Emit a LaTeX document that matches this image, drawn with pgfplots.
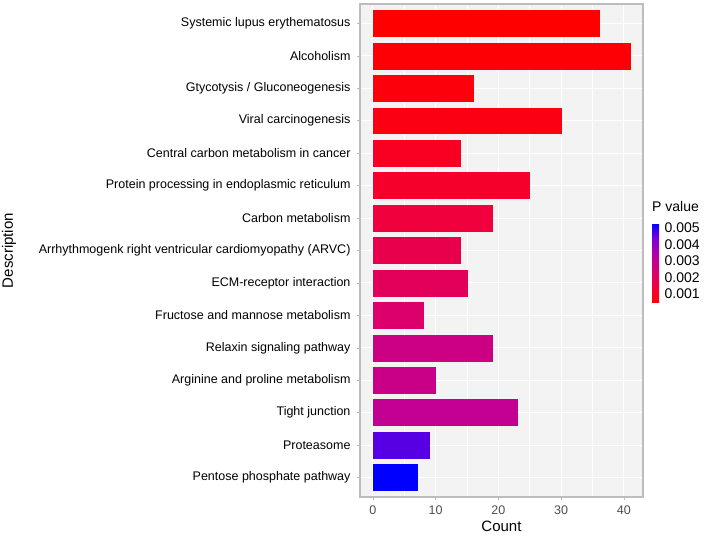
\documentclass[border=0pt]{standalone}
\usepackage{fontspec}
\setmainfont{Liberation Sans}
\usepackage{pgfplots}
\pgfplotsset{compat=1.18}

\definecolor{panelbg}{HTML}{F3F3F3}
\definecolor{frame}{HTML}{BDBDBD}
\definecolor{ticktext}{HTML}{4D4D4D}

% red -> blue, roughly as ggplot blends it (through magenta)
\pgfplotsset{
  colormap={pval}{rgb255(0)=(255,0,0) rgb255(1)=(240,0,60) rgb255(2)=(215,0,115)
    rgb255(3)=(180,0,165) rgb255(4)=(125,0,215) rgb255(5)=(0,0,255)}
}

\begin{document}
\begin{tikzpicture}
\path[use as bounding box] (0pt,0pt) rectangle (704pt,536pt);
\begin{axis}[
  at={(360pt,39pt)}, anchor=south west,
  scale only axis, width=283pt, height=493pt,
  colormap name=pval,
  /pgf/number format/assume math mode=true,
  xmin=-2.05, xmax=43.05,
  ymin=-0.6, ymax=14.6, y dir=reverse,
  ytick={0,...,14},
  yticklabels={Systemic lupus erythematosus, Alcoholism, Gtycotysis / Gluconeogenesis,
    Viral carcinogenesis, Central carbon metabolism in cancer,
    Protein processing in endoplasmic reticulum, Carbon metabolism,
    Arrhythmogenk right ventricular cardiomyopathy (ARVC), ECM-receptor interaction,
    Fructose and mannose metabolism, Relaxin signaling pathway,
    Arginine and proline metabolism, Tight junction, Proteasome,
    Pentose phosphate pathway},
  xtick={0,10,20,30,40},
  minor xtick={5,15,25,35},
  xtick pos=left, ytick pos=left,
  tick align=outside,
  major tick length=3pt, minor tick length=0pt,
  tick style={frame, line width=0.6pt},
  grid=both,
  major grid style={white, line width=1pt},
  minor grid style={white, line width=0.5pt},
  axis background/.style={fill=panelbg},
  axis line style={frame, line width=1.2pt},
  yticklabel style={font=\fontsize{12.5}{14}\selectfont, text=black, xshift=-3pt},
  xticklabel style={font=\fontsize{12.5}{14}\selectfont, text=ticktext, yshift=-2pt},
  xlabel={Count}, ylabel={Description},
  xlabel style={font=\fontsize{15}{17}\selectfont, at={(axis description cs:0.5,-0.0588)}, anchor=center},
  ylabel style={font=\fontsize{15}{17}\selectfont, at={(axis description cs:-1.240,0.5)}, anchor=center},
  every axis plot/.append style={xbar, bar width=0.8, bar shift=0pt, line width=0.5pt},
  colorbar,
  point meta min=0.00045, point meta max=0.0053,
  colorbar style={
    at={(643.5pt,313pt)}, anchor=north west,
    scale only axis, width=7pt, height=80pt,
    ytick={0.001,0.002,0.003,0.004,0.005},
    yticklabels={0.001,0.002,0.003,0.004,0.005},
    scaled y ticks=false,
    major tick length=0pt,
    axis line style={draw=none},
    yticklabel style={font=\fontsize{14}{16}\selectfont, text=black, xshift=2pt},
    title={P value},
    title style={at={(0,1)}, anchor=base west, inner sep=0pt, yshift=5pt,
      font=\fontsize{14}{16}\selectfont},
  },
]
% colour position along the map (0..1000) follows each term's P value
\addplot[color of colormap={0 of pval}, fill] coordinates {(36,0)};
\addplot[color of colormap={20 of pval}, fill] coordinates {(41,1)};
\addplot[color of colormap={40 of pval}, fill] coordinates {(16,2)};
\addplot[color of colormap={60 of pval}, fill] coordinates {(30,3)};
\addplot[color of colormap={110 of pval}, fill] coordinates {(14,4)};
\addplot[color of colormap={140 of pval}, fill] coordinates {(25,5)};
\addplot[color of colormap={200 of pval}, fill] coordinates {(19,6)};
\addplot[color of colormap={260 of pval}, fill] coordinates {(14,7)};
\addplot[color of colormap={310 of pval}, fill] coordinates {(15,8)};
\addplot[color of colormap={370 of pval}, fill] coordinates {(8,9)};
\addplot[color of colormap={460 of pval}, fill] coordinates {(19,10)};
\addplot[color of colormap={480 of pval}, fill] coordinates {(10,11)};
\addplot[color of colormap={520 of pval}, fill] coordinates {(23,12)};
\addplot[color of colormap={860 of pval}, fill] coordinates {(9,13)};
\addplot[color of colormap={1000 of pval}, fill] coordinates {(7,14)};
\end{axis}
\end{tikzpicture}
\end{document}
